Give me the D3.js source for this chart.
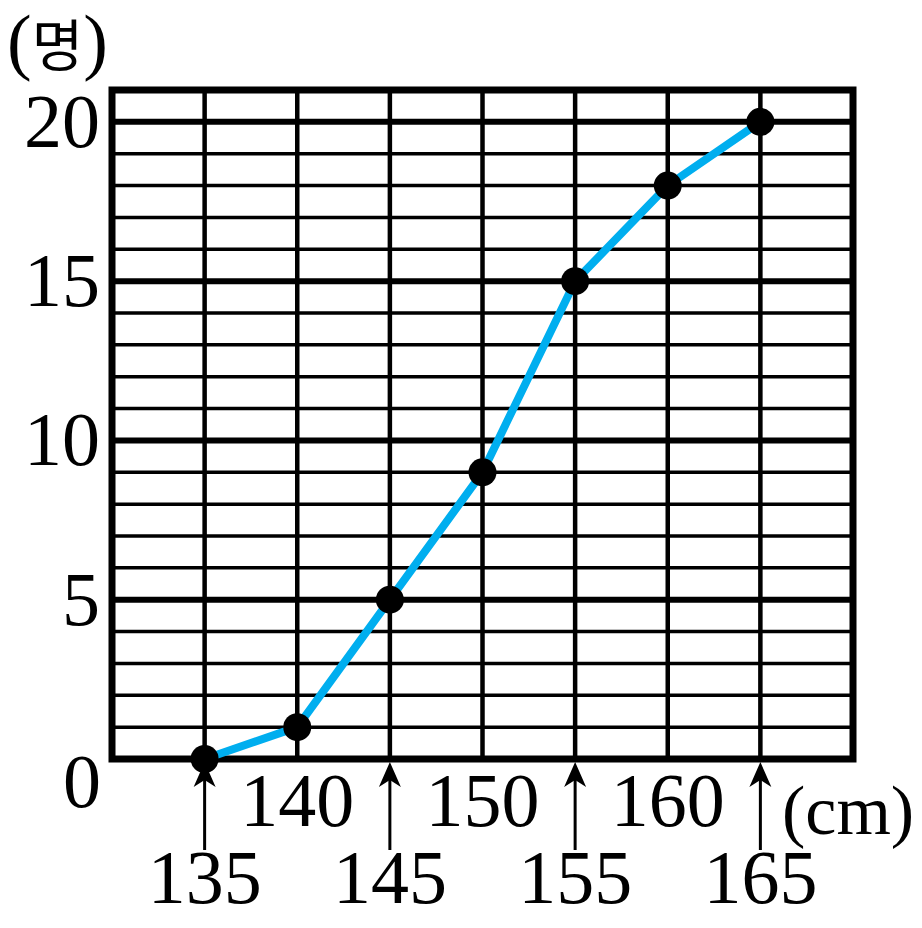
<!DOCTYPE html>
<html><head><meta charset="utf-8">
<script src="https://cdn.jsdelivr.net/npm/d3@7"></script>
<style>body{margin:0;background:#fff}svg{display:block}</style>
</head><body>
<script>
const heights = [135, 140, 145, 150, 155, 160, 165];
const cumulative = [0, 1, 5, 9, 15, 18, 20];
const yTickLabels = [0, 5, 10, 15, 20];
const arrowLabels = [135, 145, 155, 165];
const midLabels = [140, 150, 160];
const yUnit = "명";
const xUnit = "(cm)";

const W = 922, H = 928;
const svg = d3.select("body").append("svg").attr("width", W).attr("height", H);
const x = d3.scaleLinear().domain([130, 170]).range([112, 853]);
const y = d3.scaleLinear().domain([0, 21]).range([759, 90]);
const serif = "'Liberation Serif', 'DejaVu Serif', serif";
const FS = 76;

const g = svg.append("g");
// horizontal grid
d3.range(1, 21).forEach(v => {
  g.append("line").attr("x1", x(130)).attr("x2", x(170))
    .attr("y1", y(v)).attr("y2", y(v))
    .attr("stroke", "#000").attr("stroke-width", v % 5 === 0 ? 6 : 3.5);
});
// vertical grid
d3.range(135, 170, 5).forEach(v => {
  g.append("line").attr("x1", x(v)).attr("x2", x(v))
    .attr("y1", y(21)).attr("y2", y(0))
    .attr("stroke", "#000").attr("stroke-width", 4.5);
});
// border
g.append("rect").attr("x", x(130)).attr("y", y(21))
  .attr("width", x(170) - x(130)).attr("height", y(0) - y(21))
  .attr("fill", "none").attr("stroke", "#000").attr("stroke-width", 7);

// y labels
yTickLabels.forEach(v => {
  const t = svg.append("text").attr("font-family", serif).attr("font-size", FS).attr("fill", "#000");
  if (v === 0) {
    t.attr("x", 82).attr("y", 807).attr("text-anchor", "middle").text(v);
  } else {
    t.attr("x", 100).attr("y", y(v) + 25).attr("text-anchor", "end").text(v);
  }
});
const yl = svg.append("text").attr("x", 7).attr("y", 66).attr("font-family", serif).attr("font-size", 74);
yl.append("tspan").text("(");
yl.append("tspan").attr("font-family", "'Noto Sans CJK KR'").attr("font-size", 56).text(yUnit);
yl.append("tspan").text(")");

// mid labels
midLabels.forEach(v => {
  svg.append("text").attr("x", x(v)).attr("y", 826).attr("text-anchor", "middle")
    .attr("font-family", serif).attr("font-size", FS).text(v);
});
// arrows + labels
arrowLabels.forEach(v => {
  const cx = x(v);
  svg.append("line").attr("x1", cx).attr("x2", cx).attr("y1", 850).attr("y2", 775)
    .attr("stroke", "#000").attr("stroke-width", 3);
  svg.append("path").attr("d", `M${cx},${762} L${cx-11},${787} L${cx},${780} L${cx+11},${787} Z`).attr("fill", "#000");
  svg.append("text").attr("x", cx).attr("y", 903).attr("text-anchor", "middle")
    .attr("font-family", serif).attr("font-size", FS).text(v);
});
svg.append("text").attr("x", 782).attr("y", 834).attr("font-family", serif).attr("font-size", 70).text(xUnit);

// line
const pts = heights.map((h, i) => [h, cumulative[i]]);
svg.append("path").datum(pts)
  .attr("d", d3.line().x(d => x(d[0])).y(d => y(d[1])))
  .attr("fill", "none").attr("stroke", "#00AEEF").attr("stroke-width", 8).attr("stroke-linejoin", "round");
svg.selectAll("circle.pt").data(pts).enter().append("circle")
  .attr("cx", d => x(d[0])).attr("cy", d => y(d[1])).attr("r", 14).attr("fill", "#000");
</script>
</body></html>
